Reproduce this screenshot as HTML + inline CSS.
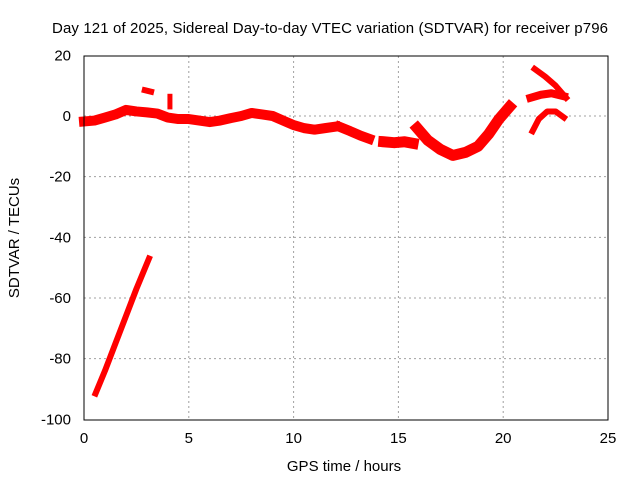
<!DOCTYPE html>
<html><head><meta charset="utf-8"><style>
body{margin:0;background:#fff}
svg text{font-family:"Liberation Sans",sans-serif;font-size:15px;fill:#000}
</style></head><body>
<svg id="c" width="640" height="480">
<rect width="640" height="480" fill="#fff"/>
<text x="330" y="33" text-anchor="middle" textLength="556">Day 121 of 2025, Sidereal Day-to-day VTEC variation (SDTVAR) for receiver p796</text>
<text x="344" y="471" text-anchor="middle">GPS time / hours</text>
<text transform="translate(19,238) rotate(-90)" text-anchor="middle">SDTVAR / TECUs</text>
<g id="grid"></g><g id="data"></g>
<rect x="84" y="56" width="524" height="364" fill="none" stroke="#000"/>
</svg>
<script>
const xTicks=[0,5,10,15,20,25];
const yTicks=[20,0,-20,-40,-60,-80,-100];
// traces: hours and SDTVAR values
const t1h=[0,0.5,1,1.5,2,2.5,3,3.5,4,4.5,5,5.5,6,6.5,7,7.5,8,8.5,9,9.5,10,10.5,11,11.5,12];
const t1v=[-1.8,-1.5,-0.5,0.5,2,1.5,1.2,0.8,-0.5,-1,-1,-1.5,-2,-1.5,-0.7,0,1,0.5,0,-1.5,-3,-4,-4.5,-4,-3.5];
const t2h=[12.2,12.7,13.2,13.6];
const t2v=[-3.6,-5,-6.5,-7.5];
const t3h=[14.3,14.8,15.3,15.7];
const t3v=[-8.5,-8.8,-8.5,-9];
const t4h=[15.9,16.4,17,17.6,18.2,18.8,19.3,19.8,20.3];
const t4v=[-4,-8,-11,-13,-12,-10,-6,-1,3];
const t5h=[21.5,22,22.5,23];
const t5v=[15.5,13,10,6];
const t6h=[21.3,21.8,22.3,22.9];
const t6v=[6,7,7.5,6.5];
const t7h=[21.4,21.7,22.1,22.5,22.9];
const t7v=[-5,-1,1.5,1.5,-0.5];
const t8h=[0.55,1,1.5,2,2.5,3.1];
const t8v=[-91.5,-84,-75,-66,-57,-47];
const t9h=[2.9,3.2];
const t9v=[8.5,8];
const t10h=[4.1,4.1];
const t10v=[6.5,3];
const sx=h=>84+h*20.96, sy=v=>116-v*3.033;
const NS='http://www.w3.org/2000/svg';
const g=document.getElementById('grid'), d=document.getElementById('data');
xTicks.forEach(t=>{
 const x=sx(t);
 if(t>0&&t<25){const l=document.createElementNS(NS,'line');
 
 
 l.setAttribute('x1',x);l.setAttribute('x2',x);l.setAttribute('y1',56);l.setAttribute('y2',420);
 l.setAttribute('stroke','#a0a0a0');l.setAttribute('stroke-dasharray','2,3');g.appendChild(l);}
 const tx=document.createElementNS(NS,'text');
 
 
 tx.setAttribute('x',x);tx.setAttribute('y',443);tx.setAttribute('text-anchor','middle');tx.textContent=t;g.appendChild(tx);
});
yTicks.forEach(t=>{
 const y=sy(t);
 if(t<20&&t>-100){const l=document.createElementNS(NS,'line');
 
 
 l.setAttribute('x1',84);l.setAttribute('x2',608);l.setAttribute('y1',y);l.setAttribute('y2',y);
 l.setAttribute('stroke','#a0a0a0');l.setAttribute('stroke-dasharray','2,3');g.appendChild(l);}
 const tx=document.createElementNS(NS,'text');
 
 
 tx.setAttribute('x',71);tx.setAttribute('y',y+5);tx.setAttribute('text-anchor','end');tx.textContent=t;g.appendChild(tx);
});
const traces=[[t1h,t1v,10],[t2h,t2v,10],[t3h,t3v,11],[t4h,t4v,11],[t5h,t5v,6],[t6h,t6v,8],[t7h,t7v,6],[t8h,t8v,6],[t9h,t9v,6],[t10h,t10v,5]];
traces.forEach(([hs,vs,w])=>{
 const p=document.createElementNS(NS,'polyline');
 
 
 p.setAttribute('points',hs.map((h,i)=>sx(h)+','+sy(vs[i])).join(' '));
 p.setAttribute('fill','none');p.setAttribute('stroke','#ff0000');p.setAttribute('stroke-width',w);
 p.setAttribute('stroke-linejoin','round');p.setAttribute('stroke-linecap','square');
 d.appendChild(p);
});
</script>
</body></html>
